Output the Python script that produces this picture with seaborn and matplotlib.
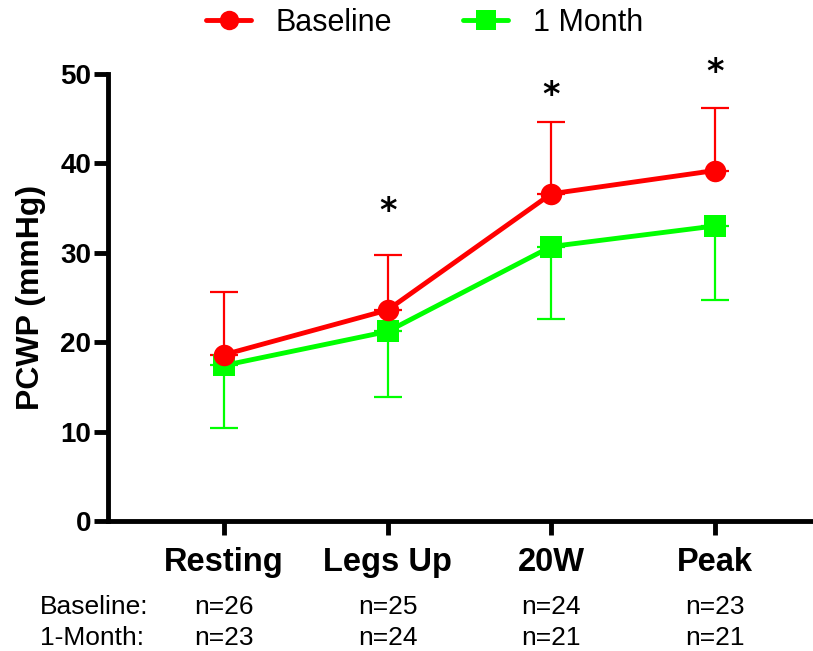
import matplotlib
matplotlib.use("Agg")
import matplotlib.pyplot as plt
import seaborn as sns
import pandas as pd
import numpy as np

categories = ["Resting", "Legs Up", "20W", "Peak"]
baseline_mean = [18.6, 23.6, 36.6, 39.2]
baseline_upper = [25.6, 29.8, 44.6, 46.2]
month_mean = [17.4, 21.2, 30.7, 33.0]
month_lower = [10.4, 13.9, 22.6, 24.7]
star_positions = [1, 2, 3]
star_heights = [34.6, 47.6, 50.2]
n_baseline = ["n=26", "n=25", "n=24", "n=23"]
n_month = ["n=23", "n=24", "n=21", "n=21"]
yticks = [0, 10, 20, 30, 40, 50]

sns.set_style("white")
plt.rcParams['font.family'] = ['Liberation Sans', 'DejaVu Sans']
plt.rcParams['text.color'] = 'black'
plt.rcParams['axes.labelcolor'] = 'black'
plt.rcParams['xtick.color'] = 'black'
plt.rcParams['ytick.color'] = 'black'

RED = "#ff0000"
GREEN = "#00ff00"

df = pd.DataFrame({
    "pos": list(range(4)) * 2,
    "value": baseline_mean + month_mean,
    "group": ["Baseline"] * 4 + ["1 Month"] * 4,
})

fig = plt.figure(figsize=(8.13, 6.51), dpi=100)
ax = fig.add_axes([108/813, 130/651, 705/813, 447/651])

x = np.arange(4)
ax.errorbar(x, baseline_mean, yerr=[np.zeros(4), np.array(baseline_upper) - np.array(baseline_mean)],
            fmt="none", ecolor=RED, elinewidth=1.6, capsize=10, capthick=1.6, zorder=2)
ax.errorbar(x, month_mean, yerr=[np.array(month_mean) - np.array(month_lower), np.zeros(4)],
            fmt="none", ecolor=GREEN, elinewidth=1.6, capsize=10, capthick=1.6, zorder=2)

sns.lineplot(data=df, x="pos", y="value", hue="group", style="group",
             hue_order=["Baseline", "1 Month"], style_order=["Baseline", "1 Month"],
             palette={"Baseline": RED, "1 Month": GREEN},
             markers={"Baseline": "o", "1 Month": "s"}, dashes=False,
             linewidth=3.5, markersize=15.5, markeredgewidth=0, ax=ax)
for line in ax.get_lines():
    if line.get_marker() == "o":
        line.set_zorder(5)
    elif line.get_marker() == "s":
        line.set_zorder(4)

ax.set_xlim(-0.709, 3.60)
ax.set_ylim(0, 50)
ax.set_yticks(yticks)
ax.set_yticklabels([str(v) for v in yticks], fontsize=20, fontweight="bold", color="black")
ax.set_xticks(x)
ax.set_xticklabels(categories, fontsize=23.5, fontweight="bold", color="black")
ax.set_xlabel("")
ax.set_ylabel("PCWP (mmHg)", fontsize=23, fontweight="bold", labelpad=10, color="black")

for s in ["top", "right"]:
    ax.spines[s].set_visible(False)
for s in ["left", "bottom"]:
    ax.spines[s].set_linewidth(3.5)
    ax.spines[s].set_color("black")
ax.tick_params(axis="both", direction="out", length=10, width=3.5, color="black",
               bottom=True, left=True)
ax.tick_params(axis="x", pad=9)
ax.tick_params(axis="y", pad=2)

for p, h in zip(star_positions, star_heights):
    ax.text(p, h, "*", ha="center", va="center", fontsize=24, fontweight="bold",
            clip_on=False, family="DejaVu Sans", color="black")

fig.text(40/813, 1 - 607/651, "Baseline:", fontsize=19, va="center", ha="left", color="black")
fig.text(40/813, 1 - 638/651, "1-Month:", fontsize=19, va="center", ha="left", color="black")
for i in range(4):
    xf = (108 + (i + 0.709) * (705 / 4.309)) / 813
    fig.text(xf, 1 - 607/651, n_baseline[i], fontsize=19, va="center", ha="center", color="black")
    fig.text(xf, 1 - 638/651, n_month[i], fontsize=19, va="center", ha="center", color="black")

leg = ax.legend(loc="upper center", bbox_to_anchor=(0.522, 1.03), bbox_transform=fig.transFigure,
                ncol=2, frameon=False, fontsize=22, handlelength=1.5, columnspacing=2.3,
                handletextpad=0.8, title=None, labelcolor="black")
for h in leg.legend_handles:
    h.set_markersize(14)

fig.savefig("out.png", dpi=100)
